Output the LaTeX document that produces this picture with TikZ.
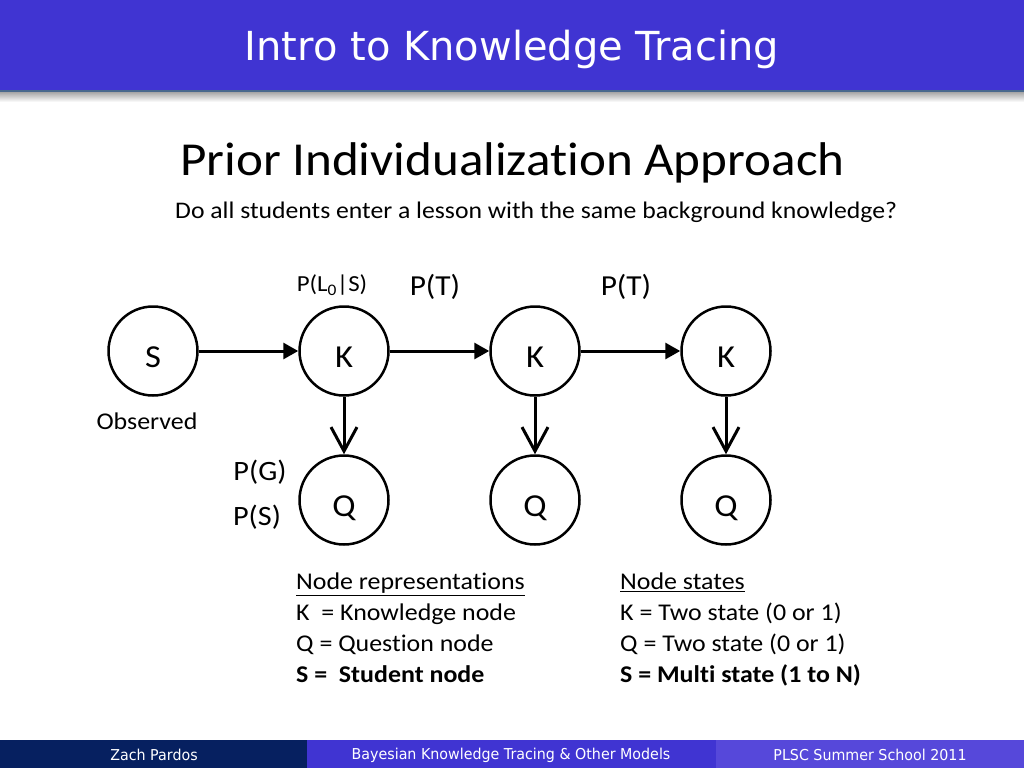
\documentclass[tikz,border=0pt]{standalone}
\usepackage{fontspec}
\setmainfont[FakeStretch=1.08, Ligatures={NoCommon}]{Carlito}
\newfontfamily\headfont{DejaVu Sans}
\newfontfamily\footfont[FakeStretch=0.95]{DejaVu Sans}
\usepackage{xcolor}
\usepackage{tikz}
\usetikzlibrary{arrows.meta, positioning}
\definecolor{slideblue}{RGB}{64,52,210}
\definecolor{navy}{RGB}{6,32,96}
\definecolor{lightblue}{RGB}{86,72,218}
\definecolor{edgeblue}{RGB}{72,104,140}
\tikzstyle{arrow} = [line width=3pt,-{Triangle[length=15pt,width=16pt]}]
\tikzstyle{down} = [line width=3pt,-{Straight Barb[length=24pt,width=26pt,line width=3pt]}]
\tikzstyle{round}=[line width=2.5pt,draw=black,circle,minimum size=89pt,inner sep=0pt,text height=33pt,text depth=0pt,font=\fontsize{32}{36}\selectfont]
\tikzstyle{label}=[inner sep=0pt,anchor=base west]

\begin{document}
\begin{tikzpicture}[x=1pt,y=-1pt,node distance=191pt,>=latex]
    \useasboundingbox (0,0) rectangle (1024,768);
    % header bar
    \shade[top color=black!35, bottom color=white] (0,92) rectangle (1024,102);
    \fill[slideblue] (0,0) rectangle (1024,92);
    \draw[edgeblue, line width=2pt] (0,91) -- (1024,91);
    \node[text=white, font=\headfont\fontsize{40}{44}\selectfont] (head) at (512,49) {Intro to Knowledge Tracing};

    % titles
    \node[label, font=\fontsize{47.3}{52}\selectfont] (title) at (180,175) {Prior Individualization Approach};
    \node[label, font=\fontsize{23.8}{28}\selectfont] (sub) at (175,218) {Do all students enter a lesson with the same background knowledge?};

    % the network
    \node[round] (s) at (153,351) {S};
    \node[round, right of=s] (k1) {K};
    \node[round, right of=k1] (k2) {K};
    \node[round, right of=k2] (k3) {K};
    \node[round, below of=k1, node distance=149pt] (q1) {Q};
    \node[round, below of=k2, node distance=149pt] (q2) {Q};
    \node[round, below of=k3, node distance=149pt] (q3) {Q};

    \draw[arrow] (s) -- (k1);
    \draw[arrow] (k1) -- (k2);
    \draw[arrow] (k2) -- (k3);
    \draw[down] (k1) -- (q1);
    \draw[down] (k2) -- (q2);
    \draw[down] (k3) -- (q3);

    % parameters
    \node[font=\fontsize{23}{26}\selectfont] (prior) at (332,285) {P(L\textsubscript{0}|S)};
    \node[font=\fontsize{29}{32}\selectfont] (t1) at (435,287) {P(T)};
    \node[font=\fontsize{29}{32}\selectfont] (t2) at (626,287) {P(T)};
    \node[font=\fontsize{24}{26}\selectfont] (obs) at (147,421) {Observed};
    \node[font=\fontsize{28}{30}\selectfont] (guess) at (260,472) {P(G)};
    \node[font=\fontsize{28}{30}\selectfont] (slip) at (257,517) {P(S)};

    % legends
    \node[label, font=\fontsize{24}{31}\selectfont, align=left, anchor=north west] (rep) at (296,573)
        {\underline{Node representations}\\K\ \ = Knowledge node\\Q = Question node\\\textbf{S =\ \ Student node}};
    \node[label, font=\fontsize{24}{31}\selectfont, align=left, anchor=north west] (states) at (620,573)
        {\underline{Node states}\\K = Two state (0 or 1)\\Q = Two state (0 or 1)\\\textbf{S = Multi state (1 to N)}};

    % footer
    \fill[navy] (0,740) rectangle (307,768);
    \fill[slideblue] (307,740) rectangle (716,768);
    \fill[lightblue] (716,740) rectangle (1024,768);
    \node[text=white, font=\footfont\fontsize{15}{17}\selectfont] (author) at (154,755) {Zach Pardos};
    \node[text=white, font=\footfont\fontsize{15}{17}\selectfont] (talk) at (511,755) {Bayesian Knowledge Tracing \& Other Models};
    \node[text=white, font=\footfont\fontsize{15}{17}\selectfont] (venue) at (870,755) {PLSC Summer School 2011};
\end{tikzpicture}
\end{document}
